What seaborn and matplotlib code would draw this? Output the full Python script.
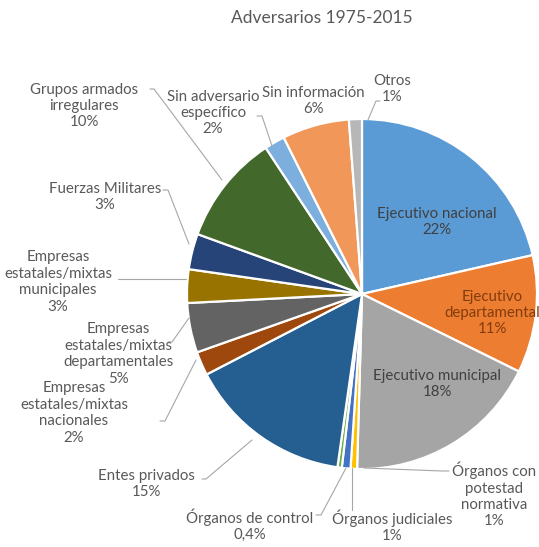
import matplotlib
matplotlib.use("Agg")
import matplotlib.pyplot as plt
import seaborn as sns

categories = [
    "Ejecutivo nacional", "Ejecutivo departamental", "Ejecutivo municipal",
    "Órganos con potestad normativa", "Órganos judiciales", "Órganos de control",
    "Entes privados", "Empresas estatales/mixtas nacionales",
    "Empresas estatales/mixtas departamentales", "Empresas estatales/mixtas municipales",
    "Fuerzas Militares", "Grupos armados irregulares", "Sin adversario específico",
    "Sin información", "Otros",
]
values = [21.5, 10.9, 18.2, 0.6, 0.8, 0.4, 15.2, 2.2, 4.6, 3.1, 3.3, 10.2, 1.9, 6.2, 1.2]
pct_labels = ["22%", "11%", "18%", "1%", "1%", "0,4%", "15%", "2%", "5%", "3%",
              "3%", "10%", "2%", "6%", "1%"]
label_texts = [
    "Ejecutivo nacional", "Ejecutivo\ndepartamental", "Ejecutivo municipal",
    "Órganos con\npotestad\nnormativa", "Órganos judiciales", "Órganos de control",
    "Entes privados", "Empresas\nestatales/mixtas\nnacionales",
    "Empresas\nestatales/mixtas\ndepartamentales", "Empresas\nestatales/mixtas\nmunicipales",
    "Fuerzas Militares", "Grupos armados\nirregulares", "Sin adversario\nespecífico",
    "Sin información", "Otros",
]
colors = ["#5B9BD5", "#ED7D31", "#A5A5A5", "#FFC000", "#4472C4", "#70AD47",
          "#255E91", "#9E480E", "#636363", "#997300", "#264478", "#43682B",
          "#7CAFDD", "#F1975A", "#B7B7B7"]

sns.set_theme(style="white")
plt.rcParams["font.family"] = ["Lato", "DejaVu Sans"]

W, H = 539, 547
fig = plt.figure(figsize=(W / 100, H / 100), dpi=100)
ax = fig.add_axes([0, 0, 1, 1])

cx, cy, r = 362, H - 294, 175
ax.pie(values, colors=colors, startangle=90, counterclock=False,
       center=(cx, cy), radius=r, frame=True,
       wedgeprops=dict(edgecolor="white", linewidth=1.6))
ax.set_xlim(0, W)
ax.set_ylim(0, H)
ax.set_aspect("equal")
ax.axis("off")

fig.text(322 / W, 1 - 18 / H, "Adversarios 1975-2015", ha="center", va="center",
         fontsize=12.5, color="#595959")

txtc = "#595959"
fs = 10.8
ls = 1.22
# inside labels: (index, x, y, color)
inside = [(0, 437, 222, "#404040"), (1, 492, 313, "#843C0C"), (2, 437, 384, "#404040")]
for i, x, y, c in inside:
    ax.text(x, H - y, f"{label_texts[i]}\n{pct_labels[i]}", ha="center", va="center",
            fontsize=fs, color=c, linespacing=ls)

# outside labels: (index, text x, text y, line points)
outside = [
    (14, 392, 89, [(380, 101), (376, 101), (368, 120)]),
    (13, 313, 101, None),
    (12, 213, 113, [(257, 116), (262, 116), (272, 146)]),
    (11, 84, 106, [(150, 89), (154, 89), (222, 180)]),
    (10, 105, 197, [(163, 190), (168, 190), (189, 244)]),
    (9, 58, 282, [(118, 279), (186, 279)]),
    (8, 118, 354, [(168, 342), (172, 342), (189, 318)]),
    (7, 74, 413, [(160, 421), (165, 421), (196, 360)]),
    (6, 146, 484, [(202, 479), (206, 479), (252, 440)]),
    (5, 250, 525, [(316, 515), (321, 515), (346, 468)]),
    (4, 392, 526, [(352, 510), (352, 468)]),
    (3, 494, 495, [(449, 471), (442, 471), (364, 468)]),
]
for i, x, y, pts in outside:
    ax.text(x, H - y, f"{label_texts[i]}\n{pct_labels[i]}", ha="center", va="center",
            fontsize=fs, color=txtc, linespacing=ls)
    if pts:
        ax.plot([p[0] for p in pts], [H - p[1] for p in pts], color="#A6A6A6", lw=0.8)

fig.savefig("out.png", dpi=100, facecolor="white")
